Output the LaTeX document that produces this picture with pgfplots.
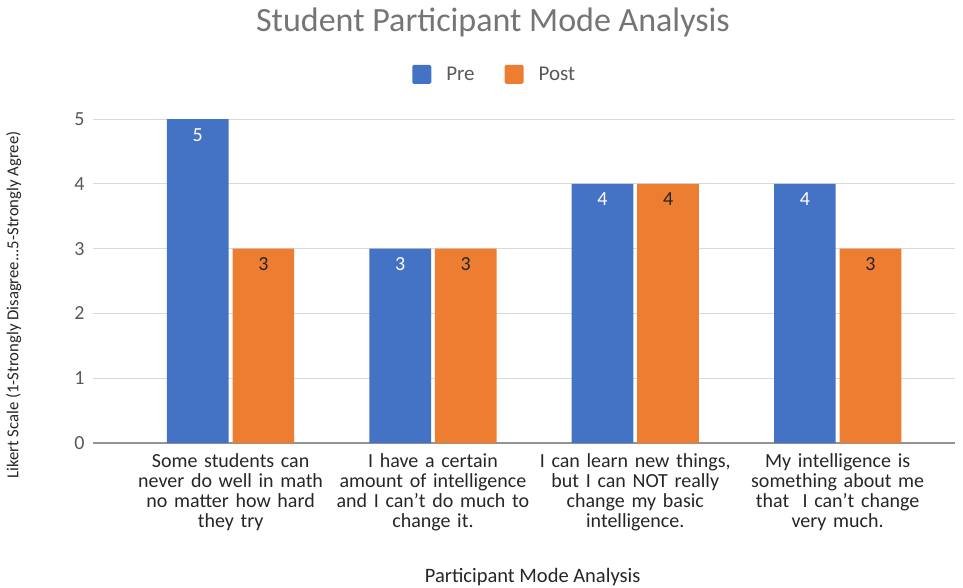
\documentclass[border=0pt]{standalone}
\usepackage{pgfplots}
\pgfplotsset{compat=1.18}
\usepackage{fontspec}
\setmainfont{Carlito}
\definecolor{preblue}{HTML}{4472C4}
\definecolor{postorange}{HTML}{ED7D31}
\definecolor{txtgray}{HTML}{595959}
\definecolor{ttlgray}{HTML}{757575}
\definecolor{gridgray}{HTML}{D9D9D9}
\newcommand{\fs}[2]{\fontsize{#1bp}{#2bp}\selectfont}

\begin{document}
\begin{tikzpicture}
\begin{axis}[
    scale only axis,
    width=862bp, height=324bp,
    xmin=-0.68, xmax=3.58,
    ymin=0, ymax=5,
    ybar,
    ytick={0,1,2,3,4,5},
    xtick={0,1,2,3},
    xticklabels={
      {Some students can\\never do well in math\\no matter how hard\\they try},
      {I have a certain\\amount of intelligence\\and I can't do much to\\change it.},
      {I can learn new things,\\but I can NOT really\\change my basic\\intelligence.},
      {My intelligence is\\something about me\\that\ \ I can't change\\very much.}},
    x tick label style={align=center, text width=200bp, font=\fs{20}{20},
      text=black!85, yshift=-7bp},
    y tick label style={font=\fs{20}{22}, text=txtgray, xshift=-5bp},
    /pgf/number format/assume math mode=true,
    major tick length=0pt,
    axis x line*=bottom, axis y line*=left,
    x axis line style={draw=gray!85, line width=1.2pt},
    y axis line style={draw=none},
    ymajorgrids, grid style={gridgray, line width=0.9pt},
    bar width=0.305,
    title={Student Participant Mode Analysis},
    title style={font=\fs{34}{38}, text=ttlgray, at={(0.464,1)}, anchor=center, yshift=91bp},
    xlabel={Participant Mode Analysis},
    xlabel style={font=\fs{20.5}{22}, text=black!85, at={(0.51,0)}, anchor=center, yshift=-134bp},
    ylabel={Likert Scale (1-Strongly Disagree...5-Strongly Agree)},
    ylabel style={font=\fs{16.7}{18}, text=black!85, at={(axis description cs:-0.092,0.426)}, anchor=center},
    legend columns=2,
    legend style={draw=none, fill=none, font=\fs{21}{22}, text=txtgray,
      at={(0.466,1)}, anchor=south, yshift=33bp,
      /tikz/every even column/.append style={column sep=28bp}},
    legend image code/.code={\fill[#1, rounded corners=1.5bp] (0bp,-9.5bp) rectangle (19bp,9.5bp);},
    nodes near coords,
    nodes near coords style={font=\fs{20}{22}, anchor=north, inner sep=0pt, yshift=-9bp},
]
\addplot[fill=preblue, draw=none, bar shift=-0.162,
  nodes near coords style={text=white}]
  coordinates {(0,5) (1,3) (2,4) (3,4)};
\addplot[fill=postorange, draw=none, bar shift=0.162,
  nodes near coords style={text=black!85}]
  coordinates {(0,3) (1,3) (2,4) (3,3)};
\legend{\hspace{13bp}Pre,\hspace{13bp}Post}
\coordinate (bl) at (rel axis cs:0,0);
\coordinate (tr) at (rel axis cs:1,1);
\end{axis}
\pgfresetboundingbox
\path ([xshift=-93bp,yshift=-145bp]bl) rectangle ([xshift=8bp,yshift=119bp]tr);
\end{tikzpicture}
\end{document}
